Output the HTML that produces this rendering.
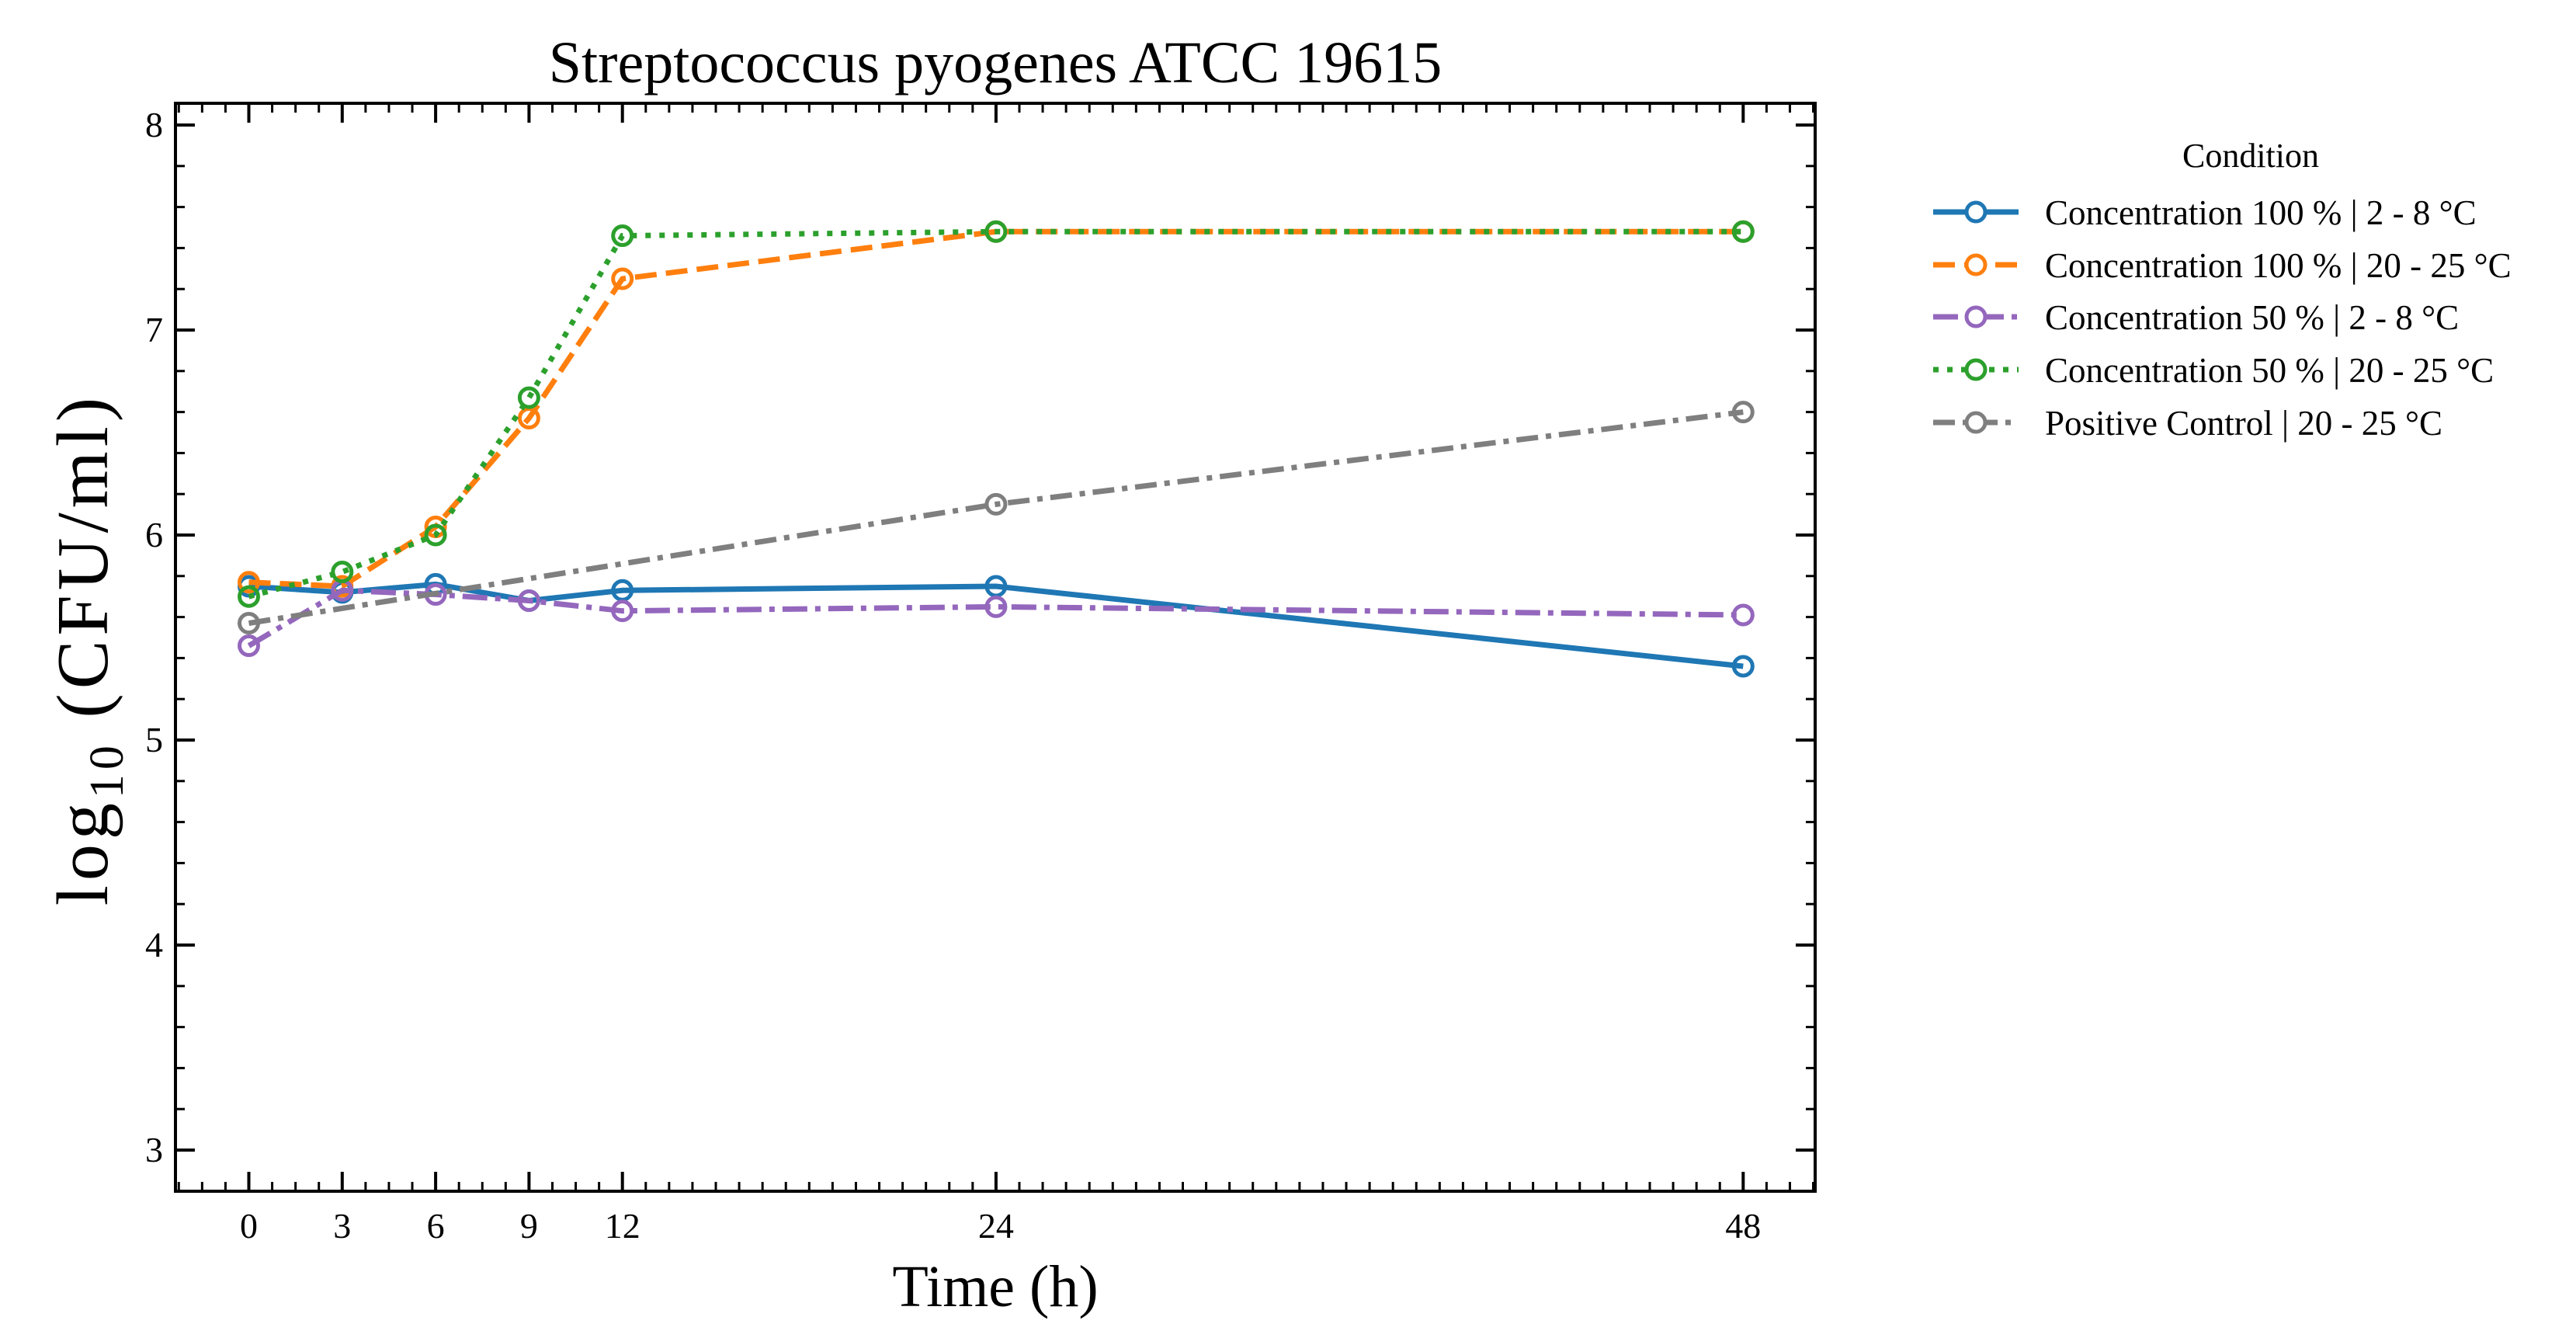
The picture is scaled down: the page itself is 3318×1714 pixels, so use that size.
<!DOCTYPE html>
<html><head><meta charset="utf-8"><style>
html,body{margin:0;padding:0;background:#fff;}
svg{display:block;font-family:"Liberation Serif","DejaVu Serif",serif;}
</style></head><body>
<svg id="chart" width="3318" height="1714" viewBox="0 0 3318 1714">
<text x="1282" y="106" font-size="76" text-anchor="middle">Streptococcus pyogenes ATCC 19615</text>
<g id="ticks"></g>
<g id="series"></g>
<rect x="226" y="133" width="2112" height="1401" fill="none" stroke="#000" stroke-width="4"/>
<text x="1282" y="1682" font-size="76" text-anchor="middle">Time (h)</text>
<text transform="translate(138,836) rotate(-90)" font-size="94" letter-spacing="6" text-anchor="middle">log<tspan font-size="62" dy="20">10</tspan><tspan dy="-20"> (CFU/ml)</tspan></text>
<g id="legend">
<text x="2899" y="215" font-size="44" text-anchor="middle">Condition</text>
</g>
</svg>
<script>
const times = [0, 3, 6, 9, 12, 24, 48];
const xTicks = [0, 3, 6, 9, 12, 24, 48];
const yTicks = [3, 4, 5, 6, 7, 8];
const seriesNames = ["Concentration 100 % | 2 - 8 °C","Concentration 100 % | 20 - 25 °C","Concentration 50 % | 2 - 8 °C","Concentration 50 % | 20 - 25 °C","Positive Control | 20 - 25 °C"];
const conc100Cold = [5.75, 5.72, 5.76, 5.68, 5.73, 5.75, 5.36];
const conc100Warm = [5.77, 5.75, 6.04, 6.57, 7.25, 7.48, 7.48];
const conc50Cold = [5.46, 5.73, 5.71, 5.68, 5.63, 5.65, 5.61];
const conc50Warm = [5.70, 5.82, 6.00, 6.67, 7.46, 7.48, 7.48];
const controlTimes = [0, 24, 48];
const controlWarm = [5.57, 6.15, 6.60];

const NS="http://www.w3.org/2000/svg";
const X0=320.5, XS=40.1, Y0=1481, YS=264;
function xs(t){return X0+t*XS;}
function ys(v){return Y0-(v-3)*YS;}
function mk(tag,attrs,parent){const e=document.createElementNS(NS,tag);for(const k in attrs)e.setAttribute(k,attrs[k]);parent.appendChild(e);return e;}
const L=226,R=2338,T=133,B=1534;
const tg=document.getElementById('ticks');
for(let t=-2.25;t<=51;t+=0.75){const x=xs(t);if(x<L+2||x>R-2)continue;
 const isMaj=xTicks.includes(Math.round(t*100)/100);const len=isMaj?25:12;
 const a=mk('line',{x1:x,x2:x,y1:B,y2:B-len,stroke:'#000','stroke-width':isMaj?4:3},tg);
 
 const b=mk('line',{x1:x,x2:x,y1:T,y2:T+len,stroke:'#000','stroke-width':isMaj?4:3},tg);
 }
xTicks.forEach(t=>{const e=mk('text',{x:xs(t),y:1594,'font-size':46,'text-anchor':'middle'},tg);e.textContent=t;
 });
for(let v=2.8;v<=8.2;v+=0.2){const y=ys(v);if(y<T+2||y>B-2)continue;
 const isMaj=Math.abs(v-Math.round(v))<0.01;const len=isMaj?25:12;
 const a=mk('line',{x1:L,x2:L+len,y1:y,y2:y,stroke:'#000','stroke-width':isMaj?4:3},tg);
 
 const b=mk('line',{x1:R,x2:R-len,y1:y,y2:y,stroke:'#000','stroke-width':isMaj?4:3},tg);
 }
yTicks.forEach(v=>{const e=mk('text',{x:210,y:ys(v)+15,'font-size':46,'text-anchor':'end'},tg);e.textContent=v;
 });

const styles=[
 {c:'#1f77b4',d:'',ts:times,vs:conc100Cold,n:'series-conc100-cold'},
 {c:'#ff7f0e',d:'28,12',ts:times,vs:conc100Warm,n:'series-conc100-warm'},
 {c:'#9467bd',d:'32,10,7,10',ts:times,vs:conc50Cold,n:'series-conc50-cold'},
 {c:'#2ca02c',d:'7,11',ts:times,vs:conc50Warm,n:'series-conc50-warm'},
 {c:'#7f7f7f',d:'28,10,7,10',ts:controlTimes,vs:controlWarm,n:'series-positive-control'}];
const sg=document.getElementById('series');
styles.forEach(s=>{
 const g=mk('g',{},sg);
 const pts=s.ts.map((t,i)=>xs(t)+','+ys(s.vs[i])).join(' ');
 const p=mk('polyline',{points:pts,fill:'none',stroke:s.c,'stroke-width':7,'stroke-dasharray':s.d},g);
 
 s.ts.forEach((t,i)=>{const c=mk('circle',{cx:xs(t),cy:ys(s.vs[i]),r:12,fill:'none',stroke:s.c,'stroke-width':5},g);
  });
});
const lg=document.getElementById('legend');
const legY=[273,341,408,476,544];
styles.forEach((s,i)=>{
 const g=mk('g',{},lg);
 const y=legY[i];
 mk('line',{x1:2490,x2:2600,y1:y,y2:y,stroke:s.c,'stroke-width':7,'stroke-dasharray':s.d},g);
 mk('circle',{cx:2545,cy:y,r:12,fill:'#fff',stroke:s.c,'stroke-width':5},g);
 const t=mk('text',{x:2634,y:y+16,'font-size':45},g);t.textContent=seriesNames[i];
});
</script>
</body></html>
